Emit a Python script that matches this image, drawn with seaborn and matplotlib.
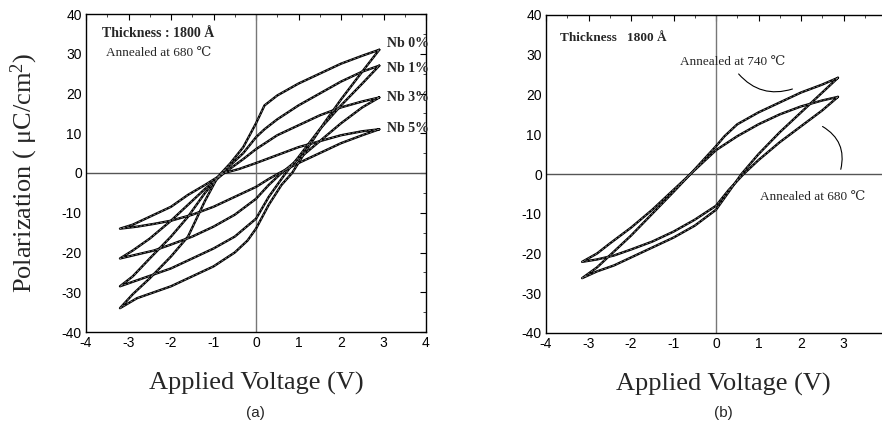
import numpy as np
import pandas as pd
import matplotlib
matplotlib.use("Agg")
import matplotlib.pyplot as plt
import seaborn as sns

# ---------------- data ----------------
# Panel (a): Nb-doped films annealed at 680 C, upper branch (V decreasing) then lower branch (V increasing)
nb0_up_V = [2.9, 2.5, 2.0, 1.5, 1.0, 0.5, 0.2, 0.0, -0.3, -0.6, -0.9, -1.2, -1.6, -2.0, -2.5, -2.9, -3.2]
nb0_up_P = [31, 29.5, 27.5, 25, 22.5, 19.5, 17, 12.5, 6.5, 2.5, -1, -7, -16, -21, -26.5, -30.5, -34]
nb0_lo_V = [-3.2, -2.8, -2.4, -2.0, -1.5, -1.0, -0.5, -0.2, 0.0, 0.3, 0.6, 0.85, 1.2, 1.6, 2.0, 2.5, 2.9]
nb0_lo_P = [-34, -31.5, -30, -28.5, -26, -23.5, -20, -17, -14, -8, -3, 0, 6, 12.5, 18.5, 25.5, 31]

nb1_up_V = [2.9, 2.5, 2.0, 1.5, 1.0, 0.5, 0.2, 0.0, -0.3, -0.8, -1.2, -1.6, -2.0, -2.5, -2.9, -3.2]
nb1_up_P = [27, 25.5, 23, 20, 17, 13.5, 11, 9, 5, 0, -5, -11, -16, -21.5, -26, -28.5]
nb1_lo_V = [-3.2, -2.8, -2.4, -2.0, -1.5, -1.0, -0.5, 0.0, 0.3, 0.7, 1.0, 1.5, 2.0, 2.5, 2.9]
nb1_lo_P = [-28.5, -27, -25.5, -24, -21.5, -19, -16, -11.5, -6, 0, 4, 11, 17, 22.5, 27]

nb3_up_V = [2.9, 2.5, 2.0, 1.5, 1.0, 0.5, 0.0, -0.3, -0.75, -1.2, -1.6, -2.0, -2.5, -2.9, -3.2]
nb3_up_P = [19, 18, 16.5, 14.5, 12, 9.5, 6, 3.5, 0, -4, -8, -12, -16.5, -19.5, -21.5]
nb3_lo_V = [-3.2, -2.8, -2.4, -2.0, -1.5, -1.0, -0.5, 0.0, 0.3, 0.6, 1.0, 1.5, 2.0, 2.5, 2.9]
nb3_lo_P = [-21.5, -20.5, -19.5, -18, -16, -13.5, -10.5, -6.5, -3, 0, 3.5, 8, 12.5, 16.5, 19]

nb5_up_V = [2.9, 2.5, 2.0, 1.5, 1.0, 0.5, 0.0, -0.4, -0.75, -1.2, -1.6, -2.0, -2.5, -2.9, -3.2]
nb5_up_P = [11, 10.5, 9.5, 8, 6.5, 4.5, 2.5, 1, 0, -3, -5.5, -8.5, -11, -13, -14]
nb5_lo_V = [-3.2, -2.8, -2.4, -2.0, -1.5, -1.0, -0.5, 0.0, 0.3, 0.55, 1.0, 1.5, 2.0, 2.5, 2.9]
nb5_lo_P = [-14, -13.5, -12.8, -12, -10.5, -8.5, -6, -3.5, -1.5, 0, 2.5, 5, 7.5, 9.5, 11]

loops_a_names = ["Nb 0%", "Nb 1%", "Nb 3%", "Nb 5%"]

# Panel (b): 1800 A film annealed at 740 C and 680 C
a740_up_V = [2.87, 2.5, 2.0, 1.5, 1.0, 0.5, 0.2, 0.0, -0.3, -0.6, -1.0, -1.5, -2.0, -2.5, -2.8, -3.15]
a740_up_P = [24.2, 22.5, 20.5, 18, 15.5, 12.5, 9.5, 7, 3.5, 0, -4.5, -10, -15.5, -20.5, -23.5, -26.2]
a740_lo_V = [-3.15, -2.8, -2.4, -2.0, -1.5, -1.0, -0.5, 0.0, 0.3, 0.6, 1.0, 1.5, 2.0, 2.5, 2.87]
a740_lo_P = [-26.2, -24.5, -23, -21, -18.5, -16, -13, -9, -4.5, 0, 5, 10.5, 15.5, 20.5, 24.2]

a680_up_V = [2.87, 2.5, 2.0, 1.5, 1.0, 0.5, 0.0, -0.3, -0.6, -1.0, -1.5, -2.0, -2.5, -2.8, -3.15]
a680_up_P = [19.4, 18.5, 17, 15, 12.5, 9.5, 6, 3, 0, -4, -9, -13.5, -17.5, -20, -22.1]
a680_lo_V = [-3.15, -2.8, -2.4, -2.0, -1.5, -1.0, -0.5, 0.0, 0.3, 0.65, 1.0, 1.5, 2.0, 2.5, 2.87]
a680_lo_P = [-22.1, -21.5, -20.5, -19, -17, -14.5, -11.5, -8, -4, 0, 3.5, 8, 12, 16, 19.4]

x_ticks = [-4, -3, -2, -1, 0, 1, 2, 3, 4]
y_ticks = [-40, -30, -20, -10, 0, 10, 20, 30, 40]

# ---------------- build tables ----------------
def loop_df(name, uv, up, lv, lp):
    V = list(uv) + list(lv)
    P = list(up) + list(lp)
    return pd.DataFrame({"loop": name, "V": V, "P": P, "order": range(len(V))})

df_a = pd.concat([
    loop_df("Nb 0%", nb0_up_V, nb0_up_P, nb0_lo_V, nb0_lo_P),
    loop_df("Nb 1%", nb1_up_V, nb1_up_P, nb1_lo_V, nb1_lo_P),
    loop_df("Nb 3%", nb3_up_V, nb3_up_P, nb3_lo_V, nb3_lo_P),
    loop_df("Nb 5%", nb5_up_V, nb5_up_P, nb5_lo_V, nb5_lo_P),
], ignore_index=True)

df_b = pd.concat([
    loop_df("740", a740_up_V, a740_up_P, a740_lo_V, a740_lo_P),
    loop_df("680", a680_up_V, a680_up_P, a680_lo_V, a680_lo_P),
], ignore_index=True)

# ---------------- figure ----------------
sns.set_theme(style="white")
plt.rcParams["font.family"] = ["Liberation Sans", "DejaVu Sans"]
plt.rcParams["mathtext.fontset"] = "custom"
plt.rcParams["mathtext.rm"] = "Liberation Serif"
plt.rcParams["mathtext.it"] = "Liberation Serif:italic"

W, H = 882, 438
fig = plt.figure(figsize=(W / 100, H / 100), dpi=100)
fig.patch.set_facecolor("white")

ax1 = fig.add_axes([86 / W, 1 - 332 / H, 340 / W, 318 / H])
ax2 = fig.add_axes([546 / W, 1 - 333 / H, 340 / W, 318 / H])

serif = ["Liberation Serif", "DejaVu Serif"]

for ax, df in ((ax1, df_a), (ax2, df_b)):
    ax.set_facecolor("white")
    ax.axhline(0, color="#555555", lw=1.0, zorder=1)
    ax.axvline(0, color="#777777", lw=1.0, zorder=1)
    for name, g in df.groupby("loop", sort=False):
        sns.lineplot(data=g, x="V", y="P", sort=False, estimator=None,
                     color="black", lw=1.7, ax=ax, zorder=3)
        sns.lineplot(data=g, x="V", y="P", sort=False, estimator=None,
                     color="#777777", lw=0.6, ls=(0, (3, 2)), ax=ax, zorder=4)
    ax.set_xlim(-4, 4)
    ax.set_ylim(-40, 40)
    ax.set_yticks(y_ticks)
    ax.set_yticklabels([str(t) for t in y_ticks])
    ax.set_xlabel("")
    ax.set_ylabel("")
    ax.tick_params(axis="both", which="major", direction="in", length=4,
                   width=0.8, color="black", labelsize=10, labelcolor="black", pad=3)
    ax.set_xticks(np.arange(-3.5, 4, 1), minor=True)
    ax.set_yticks(np.arange(-35, 40, 10), minor=True)
    ax.tick_params(axis="both", which="minor", direction="in", length=2, width=0.6)
    for s in ax.spines.values():
        s.set_color("black")
        s.set_linewidth(1.0)

ax1.tick_params(top=True, right=True, which="both")
ax2.tick_params(top=True, right=False, which="both")

ax1.set_xticks(x_ticks)
ax1.set_xticklabels([str(t) for t in x_ticks])
ax2.set_xticks(x_ticks[:-1])
ax2.set_xticklabels([str(t) for t in x_ticks[:-1]])

# axis titles
ax1.set_ylabel("Polarization ( $\\mathrm{\\mu C/cm^2}$)", fontfamily=serif, fontsize=19)
ax1.yaxis.set_label_coords(-0.135, 0.5)
ax1.set_xlabel("Applied Voltage (V)", fontfamily=serif, fontsize=19)
ax2.set_xlabel("Applied Voltage (V)", fontfamily=serif, fontsize=19)
ax1.xaxis.set_label_coords(0.5, -0.125)
ax2.xaxis.set_label_coords((723 - 546) / 340, -0.125)

fig.text(255 / W, 1 - 413 / H, "(a)", ha="center", va="center", fontsize=11)
fig.text(723 / W, 1 - 413 / H, "(b)", ha="center", va="center", fontsize=11)

# panel (a) annotations
ax1.text(-3.62, 35.2, "Thickness : 1800 Å", fontfamily=serif, fontsize=10,
         fontweight="bold", va="center", ha="left")
ax1.text(-3.53, 30.2, "Annealed at 680 ℃", fontfamily=serif + ["DejaVu Sans"],
         fontsize=9.5, va="center", ha="left")
label_y = [32.7, 26.4, 19.1, 11.3]
for name, yy in zip(loops_a_names, label_y):
    ax1.text(3.08, yy, name, fontfamily=serif, fontsize=10, fontweight="bold",
             va="center", ha="left")

# panel (b) annotations
ax2.text(-3.67, 34.2, "Thickness   1800 Å", fontfamily=serif, fontsize=9.5,
         fontweight="bold", va="center", ha="left")
ax2.text(-0.85, 28.2, "Annealed at 740 ℃", fontfamily=serif + ["DejaVu Sans"],
         fontsize=9.5, va="center", ha="left")
ax2.text(1.04, -5.8, "Annealed at 680 ℃", fontfamily=serif + ["DejaVu Sans"],
         fontsize=9.5, va="center", ha="left")
ax2.annotate("", xy=(1.86, 21.6), xytext=(0.49, 25.7),
             arrowprops=dict(arrowstyle="-", color="black", lw=0.8,
                             connectionstyle="arc3,rad=0.35"))
ax2.annotate("", xy=(2.92, 0.5), xytext=(2.45, 12.3),
             arrowprops=dict(arrowstyle="-", color="black", lw=0.8,
                             connectionstyle="arc3,rad=-0.4"))

fig.savefig("out.png", dpi=100, facecolor="white")
